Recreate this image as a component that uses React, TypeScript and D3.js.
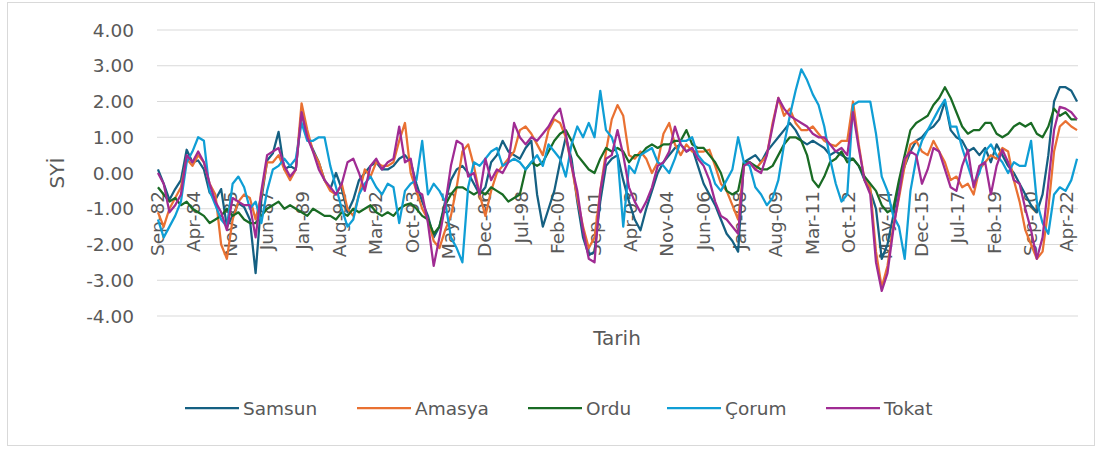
import * as d3 from "d3";

const W = 1100;
const H = 450;

// one value every 3 months, starting Sep-82
const STEP = 3;

const samsun = [
  0.1, -0.3, -0.75, -0.45, -0.2, 0.65, 0.3, 0.35, 0.1, -0.55,
  -0.75, -0.45, -1.5, -1.2, -0.85, -0.95, -1.3, -2.8, -0.75, 0.35,
  0.55, 1.15, 0.1, 0.2, 0.1, 1.7, 1.0, 0.65, 0.3, -0.2,
  -0.45, 0.0, -0.45, -1.1, -0.75, -0.2, 0.0, 0.2, 0.3, 0.1,
  0.1, 0.2, 0.4, 0.5, 0.3, -0.3, -0.8, -1.2, -1.8, -1.5,
  -0.8, -0.2, 0.1, 0.2, 0.0, -0.3, -0.6, -0.4, 0.3, 0.5,
  0.9, 0.6, 0.5, 0.4, 0.7, 0.9, -0.6, -1.5, -1.0, -0.5,
  0.3, 1.0, 0.4, -0.8, -1.8, -2.3, -2.2, -0.8, 0.2, 0.4,
  0.5,
  -0.2, -0.8, -1.3, -1.6, -1.0, -0.5, 0.0, 0.3, 0.5, 0.7,
  0.8, 0.6, 0.7, 0.2, -0.3, -0.6, -0.9, -1.3, -1.7, -1.9,
  -2.2, 0.3, 0.4, 0.5, 0.3, 0.6, 0.8, 1.0, 1.2, 1.4,
  1.2, 0.9, 0.8, 0.9, 0.8, 0.7, 0.5, 0.6, 0.5, 0.4,
  0.4, 0.2, -0.2, -0.5, -1.0, -2.4, -2.0, -1.2, -0.3, 0.2,
  0.6, 0.9, 1.0, 1.2, 1.3, 1.5, 2.0, 1.2, 1.0, 0.9,
  0.6, 0.7, 0.5, 0.7, 0.3, 0.8, 0.5, 0.2, 0.0, -0.3,
  -0.6, -0.9, -1.1, -0.6, 0.5, 2.0, 2.4, 2.4, 2.3, 2.0,
];

const amasya = [
  -1.1, -1.5, -1.0, -0.7, -0.4, 0.4, 0.2, 0.5, 0.3, -0.3,
  -0.6, -2.0, -2.4, -1.3, -0.8, -0.6, -0.7, -1.3, -0.6, 0.3,
  0.3, 0.5, 0.1, -0.2, 0.1, 1.95, 1.2, 0.6, 0.3, -0.2,
  -0.5, -0.6, -0.3, -1.0, -1.2, -0.6, 0.1, -0.1, 0.3, 0.2,
  0.2, 0.3, 0.9, 1.4, 0.0, -0.5, -1.0, -1.3, -1.9, -2.1,
  -1.6, -1.2, -0.4, 0.6, 0.8, 0.2, -0.6, -1.2, -0.5, 0.0,
  0.2, 0.4, 0.6, 1.2, 1.3, 1.1, 0.8, 0.5, 1.2, 1.5,
  1.4, 1.0, 0.2, -0.7, -1.5, -2.1, -1.8, -0.5, 0.6, 1.5,
  1.9,
  1.6, 0.5, 0.4, 0.6, 0.4, 0.0, 0.3, 1.1, 1.4, 0.8,
  0.5, 0.8, 0.6, 0.6, 0.6, 0.65, 0.2, -0.3, -0.5, -0.9,
  -1.3, 0.2, 0.3, 0.1, 0.3, 0.5, 1.4, 2.1, 1.6, 1.8,
  1.4, 1.2, 1.2, 1.3, 1.1, 0.9, 0.8, 0.75, 0.9, 0.9,
  2.0, 0.8, -0.2, -0.4, -2.2, -3.2, -2.6, -1.5, -0.7, 0.2,
  0.8, 0.9, 0.6, 0.5, 0.9, 0.6, 0.3, -0.2, -0.1, -0.4,
  -0.3, -0.6, 0.1, 0.3, 0.5, 0.4, 0.7, 0.6, -0.2, -0.8,
  -1.6, -2.0, -2.4, -2.2, -1.0, 0.6, 1.3, 1.45, 1.3, 1.2,
];

const ordu = [
  -0.4, -0.6, -0.8, -0.7, -0.9, -0.8, -1.0, -1.1, -1.2, -1.4,
  -1.3, -1.2, -1.0, -1.2, -1.1, -1.3, -1.4, -1.4, -1.2, -1.0,
  -0.9, -0.8, -1.0, -0.9, -1.0, -1.1, -1.2, -1.0, -1.1, -1.2,
  -1.2, -1.3, -1.1, -1.2, -1.0, -1.1, -1.0, -0.9, -1.1, -1.2,
  -1.1, -1.2, -1.0, -0.9, -0.85, -1.0, -1.2, -1.3, -1.7, -1.5,
  -0.9, -0.6, -0.4, -0.4, -0.5, -0.6, -0.5, -0.6, -0.4, -0.5,
  -0.6, -0.8, -0.7, -0.6, 0.1, 0.3, 0.2, 0.3, 0.6, 0.9,
  1.1, 1.2, 0.9, 0.5, 0.3, 0.1, 0.0, 0.4, 0.7, 0.6,
  0.7,
  0.6, 0.3, 0.5, 0.5, 0.7, 0.8, 0.7, 0.8, 0.8, 0.9,
  0.9, 1.2, 0.8, 0.7, 0.7, 0.5, 0.3, 0.0, -0.5, -0.6,
  -0.5, 0.3, 0.3, 0.2, 0.1, 0.1, 0.2, 0.5, 0.8, 1.0,
  1.0, 0.9, 0.5, -0.2, -0.4, -0.1, 0.3, 0.4, 0.6, 0.3,
  0.4, 0.2, -0.1, -0.3, -0.5, -0.9, -1.1, -1.0, -0.2, 0.5,
  1.2, 1.4, 1.5, 1.6, 1.9, 2.1, 2.4, 2.1, 1.7, 1.3,
  1.1, 1.2, 1.2, 1.4, 1.4, 1.1, 1.0, 1.1, 1.3, 1.4,
  1.3, 1.4, 1.1, 1.0, 1.3, 1.8, 1.6, 1.7, 1.5, 1.5,
];

const corum = [
  -1.3, -1.8, -1.5, -1.2, -0.8, 0.3, 0.6, 1.0, 0.9, -0.5,
  -0.9, -1.3, -1.5, -0.3, -0.1, -0.4, -1.0, -0.8, -1.4, -0.5,
  0.1, 0.2, 0.4, 0.2, 0.4, 1.4, 0.9, 0.9, 1.0, 1.0,
  0.2, -0.4, -1.0, -1.5, -1.3, -0.6, -0.3, -0.1, -0.4, -0.6,
  -0.3, -0.4, -1.4, -0.5, -0.3, -0.2, 0.9, -0.6, -0.3, -0.5,
  -0.8, -1.8, -2.1, -2.5, -0.4, 0.3, 0.2, 0.4, 0.6, 0.7,
  0.2, 0.3, 0.4, 0.3, 0.1, 0.3, 0.5, 0.2, 0.8, 0.6,
  0.4, -0.1, 0.8, 1.3, 1.0, 1.4, 1.0, 2.3, 1.2, 1.0,
  0.5,
  -1.5, 0.2, 0.0, 0.5, 0.6, 0.7, 0.3, 0.2, 0.0, 0.4,
  0.9, 0.9, 1.0, 0.5, 0.3, 0.2, -0.3, -0.5, -0.2, 0.1,
  1.0, 0.3, 0.2, -0.4, -0.6, -0.9, -0.7, -0.2, 0.8, 1.6,
  2.3, 2.9, 2.6, 2.2, 1.9, 1.3, 0.4, -0.3, -0.8, -0.6,
  1.9, 2.0, 2.0, 2.0, 1.1, -0.1, -0.5, -1.2, -1.5, -2.4,
  -0.5, 0.4, 0.9, 1.2, 1.5, 1.8, 2.05, 1.3, 1.3, 0.7,
  0.2, -0.3, 0.0, 0.6, 0.8, 0.5, 0.3, 0.0, 0.3, 0.2,
  0.2, 0.9, -0.8, -1.4, -1.7, -0.6, -0.4, -0.5, -0.2, 0.4,
];

const tokat = [
  0.0, -0.3, -1.1, -0.9, -0.6, 0.5, 0.3, 0.6, 0.3, -0.3,
  -0.8, -1.1, -1.6, -0.7, -0.8, -0.9, -0.9, -1.8, -0.5, 0.5,
  0.6, 0.7, 0.2, -0.1, 0.1, 1.7, 1.0, 0.6, 0.1, -0.2,
  -0.4, -0.6, -0.3, 0.3, 0.4, 0.0, -0.5, 0.2, 0.4, 0.1,
  0.3, 0.4, 1.3, 0.3, 0.4, -0.5, -0.6, -1.4, -2.6, -1.8,
  -0.9, 0.2, 0.9, 0.8, -0.1, 0.0, -0.6, 0.4, -0.2, 0.1,
  0.0, 0.3, 1.4, 1.0, 0.8, 1.0, 0.9, 1.1, 1.3, 1.6,
  1.8, 1.1, 0.2, -0.5, -1.6, -2.4, -2.5, -0.5, 0.4, 0.5,
  1.2,
  0.5, -0.4, -0.8, -1.1, -0.8, -0.4, 0.2, 0.3, 0.6, 1.3,
  0.8, 0.6, 0.7, 0.4, 0.2, -0.2, -0.8, -1.2, -1.3, -1.5,
  -1.7, 0.2, 0.3, 0.1, 0.0, 0.5, 1.3, 2.1, 1.8, 1.6,
  1.5, 1.4, 1.3, 1.1, 1.0, 1.0, 0.8, 0.6, 0.7, 0.5,
  1.7, 0.7, -0.2, -0.6, -2.5, -3.3, -2.8, -1.6, -0.6, 0.4,
  0.6, 0.5, -0.3, 0.1, 0.7, 0.6, 0.1, -0.4, -0.5, 0.2,
  0.65, -0.4, 0.2, 0.3, -0.6, 0.2, 0.65, 0.3, -0.2, -0.3,
  -1.0, -1.6, -2.4, -1.8, -0.3, 1.2, 1.85, 1.8, 1.7, 1.5,
];

const seriesNames = ["Samsun", "Amasya", "Ordu", "Çorum", "Tokat"];
const seriesColors = ["#156082", "#E97132", "#196B24", "#0F9ED5", "#A02B93"];
const seriesValues = [samsun, amasya, ordu, corum, tokat];

// category labels shown every 19 months
const tickLabels = [
  "Sep-82", "Apr-84", "Nov-85", "Jun-87", "Jan-89", "Aug-90", "Mar-92",
  "Oct-93", "May-95", "Dec-96", "Jul-98", "Feb-00", "Sep-01", "Apr-03",
  "Nov-04", "Jun-06", "Jan-08", "Aug-09", "Mar-11", "Oct-12", "May-14",
  "Dec-15", "Jul-17", "Feb-19", "Sep-20", "Apr-22",
];
const TICK_EVERY = 19;
const N_MONTHS = 481;

const yTicks = [4, 3, 2, 1, 0, -1, -2, -3, -4];

const FONT = "'DejaVu Sans', sans-serif";
const TXT = "#595959";

export default function App() {
  const x = d3.scaleLinear().domain([-0.5, N_MONTHS - 0.5]).range([157, 1078]);
  const y = d3.scaleLinear().domain([-4, 4]).range([316, 30]);
  const line = d3
    .line<number>()
    .x((_, i) => x(i * STEP))
    .y((d) => y(d));

  // legend entries (line start positions)
  const legendX = [185, 357, 528, 667, 826];

  return (
    <svg width={W} height={H} style={{ position: "absolute", left: 0, top: 0 }}>
      <rect x={0} y={0} width={W} height={H} fill="#fff" />
      <rect x={7.5} y={2.5} width={1087} height={443} fill="none" stroke="#d9d9d9" />
      <g>
        {yTicks.map((t) => (
          <g key={t}>
            <line x1={157} x2={1078} y1={y(t)} y2={y(t)} stroke="#d9d9d9" strokeWidth={1} />
            <text x={134} y={y(t)} dy="0.36em" textAnchor="end" fontFamily={FONT} fontSize={18.5} fill={TXT}>
              {t.toFixed(2)}
            </text>
          </g>
        ))}
      </g>
      <g>
        {tickLabels.map((lab, k) => {
          const xx = x(k * TICK_EVERY);
          return (
            <text
              key={lab}
              transform={`translate(${xx + 6},${y(0) + 18}) rotate(-90)`}
              textAnchor="end"
              fontFamily={FONT}
              fontSize={18.5}
              fill={TXT}
            >
              {lab}
            </text>
          );
        })}
      </g>
      <g fill="none" strokeWidth={2.25} strokeLinejoin="round">
        {seriesValues.map((vals, s) => (
          <path key={seriesNames[s]} d={line(vals) ?? ""} stroke={seriesColors[s]} />
        ))}
      </g>
      <text
        transform={`translate(64,${y(0)}) rotate(-90)`}
        textAnchor="middle"
        fontFamily={FONT}
        fontSize={20}
        fill={TXT}
      >
        SYİ
      </text>
      <text x={617} y={345} textAnchor="middle" fontFamily={FONT} fontSize={20} fill={TXT}>
        Tarih
      </text>
      <g>
        {seriesNames.map((n, s) => (
          <g key={n}>
            <line x1={legendX[s]} x2={legendX[s] + 54} y1={408} y2={408} stroke={seriesColors[s]} strokeWidth={2.25} />
            <text x={legendX[s] + 58} y={408} dy="0.36em" fontFamily={FONT} fontSize={18.5} fill={TXT}>
              {n}
            </text>
          </g>
        ))}
      </g>
    </svg>
  );
}
